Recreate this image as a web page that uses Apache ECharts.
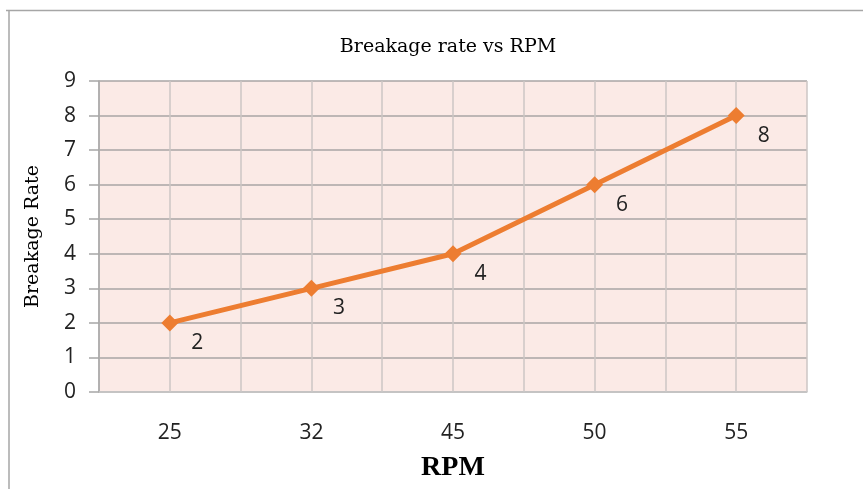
<!DOCTYPE html>
<html><head><meta charset="utf-8">
<script src="https://cdn.jsdelivr.net/npm/echarts@6/dist/echarts.min.js"></script>
<style>html,body{margin:0;padding:0;background:#fff}#c{width:863px;height:489px}</style>
</head><body><div id="c"></div>
<script>
const categories = ['25','32','45','50','55'];
const breakageRate = [2,3,4,6,8];
const yTicks = [0,1,2,3,4,5,6,7,8,9];
const halfSlots = ['','','','','','','','','',''];

const chart = echarts.init(document.getElementById('c'));
chart.setOption({
  backgroundColor: '#fff',
  animation: false,
  graphic: [
    {type:'line', shape:{x1:6,y1:10.5,x2:863,y2:10.5}, style:{stroke:'#a6a6a6', lineWidth:1.5}, silent:true},
    {type:'line', shape:{x1:9,y1:10,x2:9,y2:489}, style:{stroke:'#a6a6a6', lineWidth:1.5}, silent:true}
  ],
  title: {text:'Breakage rate vs RPM', left:443, textAlign:'center', top:33,
    textStyle:{fontFamily:'DejaVu Serif', fontSize:19, fontWeight:'normal', color:'#000'}},
  grid: {left:99, right:56, top:81, bottom:97, show:true, backgroundColor:'#fbeae6', borderWidth:0, outerBoundsMode:'none', containLabel:false},
  xAxis: [{
    type:'category', data:categories, boundaryGap:true,
    name:'RPM', nameLocation:'middle', nameGap:62,
    nameTextStyle:{fontFamily:'Liberation Serif', fontSize:28, fontWeight:'bold', color:'#000'},
    axisLine:{show:true, lineStyle:{color:'#c8c8c8', width:1.5}},
    axisTick:{show:false},
    axisLabel:{fontFamily:'Open Sans', fontSize:21, color:'#222', margin:31},
    splitLine:{show:false}
  },{
    type:'category', data:halfSlots, boundaryGap:true, position:'bottom',
    axisLine:{show:false}, axisTick:{show:false}, axisLabel:{show:false},
    splitLine:{show:true, lineStyle:{color:'#cdc6c4', width:1.5}}
  }],
  yAxis: {
    type:'value', min:0, max:9, interval:1,
    name:'Breakage Rate', nameLocation:'middle', nameGap:56,
    nameTextStyle:{fontFamily:'DejaVu Serif', fontSize:19, fontWeight:'normal', color:'#000'},
    axisLine:{show:true, lineStyle:{color:'#a6a6a6', width:1.5}},
    axisTick:{show:true, inside:false, length:10, lineStyle:{color:'#a6a6a6', width:1.5}},
    axisLabel:{fontFamily:'Open Sans', fontSize:21, color:'#222', margin:23,
      formatter:function(v){return yTicks.indexOf(v)>=0 ? String(v) : '';}},
    splitLine:{show:true, lineStyle:{color:'#a9a5a4', width:1.5}}
  },
  series: [{
    type:'line', data:breakageRate, xAxisIndex:0,
    lineStyle:{color:'#ed7d31', width:5},
    itemStyle:{color:'#ed7d31'},
    symbol:'diamond', symbolSize:[17,17],
    label:{show:true, position:'right', offset:[8,20], fontFamily:'Open Sans', fontSize:21, color:'#222'}
  }]
});
</script></body></html>
